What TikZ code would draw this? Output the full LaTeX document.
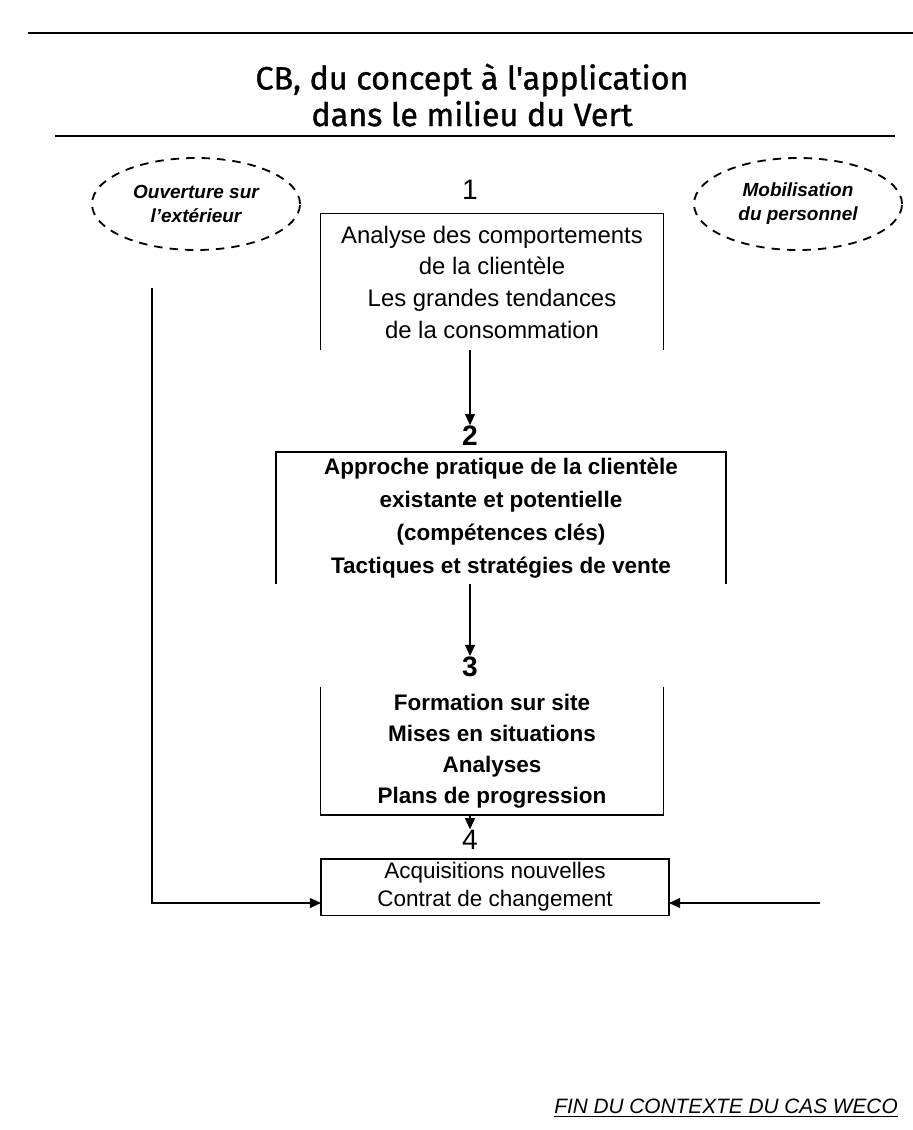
\documentclass[tikz,border=0pt]{standalone}
\usepackage{fontspec}
\setmainfont{Liberation Sans}
\newfontfamily\titlefont[FakeBold=1]{Fira Sans}
\usepackage{tikz}
\usetikzlibrary{arrows.meta,shapes.geometric}

\begin{document}
\begin{tikzpicture}[x=0.025cm, y=-0.025cm, line width=1.3pt, >={Triangle[length=8pt,width=7pt]},
    stepbox/.style={inner sep=0pt, align=center, font=\fontsize{17}{22.5}\selectfont},
    oval/.style={draw, ellipse, dash pattern=on 6pt off 5pt, inner sep=0pt, align=center, font=\fontsize{13.5}{17}\selectfont\itshape\bfseries},
    num/.style={inner sep=0pt, font=\fontsize{20}{22}\selectfont}]
    \useasboundingbox (0,0) rectangle (913,1130);

    % Title
    \draw[line width=2pt] (28,33) -- (913,33);
    \node[font=\titlefont\fontsize{23}{26}\selectfont, align=center] (title) at (472,95) {CB, du concept à l'application\\dans le milieu du Vert};
    \draw[line width=2pt] (55,136) -- (895,136);

    % Side ovals
    \node[oval, minimum width=5.2cm, minimum height=2.3cm] (ext) at (196,204) {Ouverture sur\\l'extérieur};
    \node[oval, minimum width=5.2cm, minimum height=2.3cm] (pers) at (798,204) {Mobilisation\\du personnel};

    % Steps
    \node[num] (n1) at (470,190) {1};
    \node[stepbox, minimum width=8.525cm, minimum height=3.375cm] (b1) at (492,282) {Analyse des comportements\\de la clientèle\\Les grandes tendances\\de la consommation};
    \node[num, font=\fontsize{20}{22}\selectfont\bfseries] (n2) at (470,436) {2};
    \node[stepbox, font=\fontsize{16}{23.5}\selectfont\bfseries, minimum width=11.2cm, minimum height=3.25cm] (b2) at (501,518) {Approche pratique de la clientèle\\existante et potentielle\\(compétences clés)\\Tactiques et stratégies de vente};
    \node[num, font=\fontsize{20}{22}\selectfont\bfseries] (n3) at (470,667) {3};
    \node[stepbox, font=\fontsize{16}{22}\selectfont\bfseries, minimum width=8.525cm, minimum height=3.15cm] (b3) at (492,751) {Formation sur site\\Mises en situations\\Analyses\\Plans de progression};
    \node[num, font=\fontsize{20}{22}\selectfont\rmfamily] (n4) at (470,840) {4};
    \node[stepbox, font=\fontsize{16}{20}\selectfont, minimum width=8.65cm, minimum height=1.375cm] (b4) at (495,887) {Acquisitions nouvelles\\Contrat de changement};

    % Frames
    \draw (b1.south west) -- (b1.north west) -- (b1.north east) -- (b1.south east);
    \draw (b2.south west) -- (b2.north west) -- (b2.north east) -- (b2.south east);
    \draw (b3.north west) -- (b3.south west) -- (b3.south east) -- (b3.north east);
    \draw (b4.south west) rectangle (b4.north east);

    % Connections
    \draw[->] (b1.south -| n2) -- (n2.north);
    \draw[->] (b2.south -| n3) -- (n3.north);
    \draw[->] (b3.south -| n4) -- (n4.north);
    \coordinate (extStart) at (152,288);
    \coordinate (persStart) at (820,903);
    \draw[->] (extStart) |- (b4.west |- persStart);
    \draw[->] (persStart) -- (persStart -| b4.east);

    % Footer
    \node[font=\fontsize{14.8}{17}\selectfont\itshape] (foot) at (726,1108) {\underline{FIN DU CONTEXTE DU CAS WECO}};
\end{tikzpicture}
\end{document}
